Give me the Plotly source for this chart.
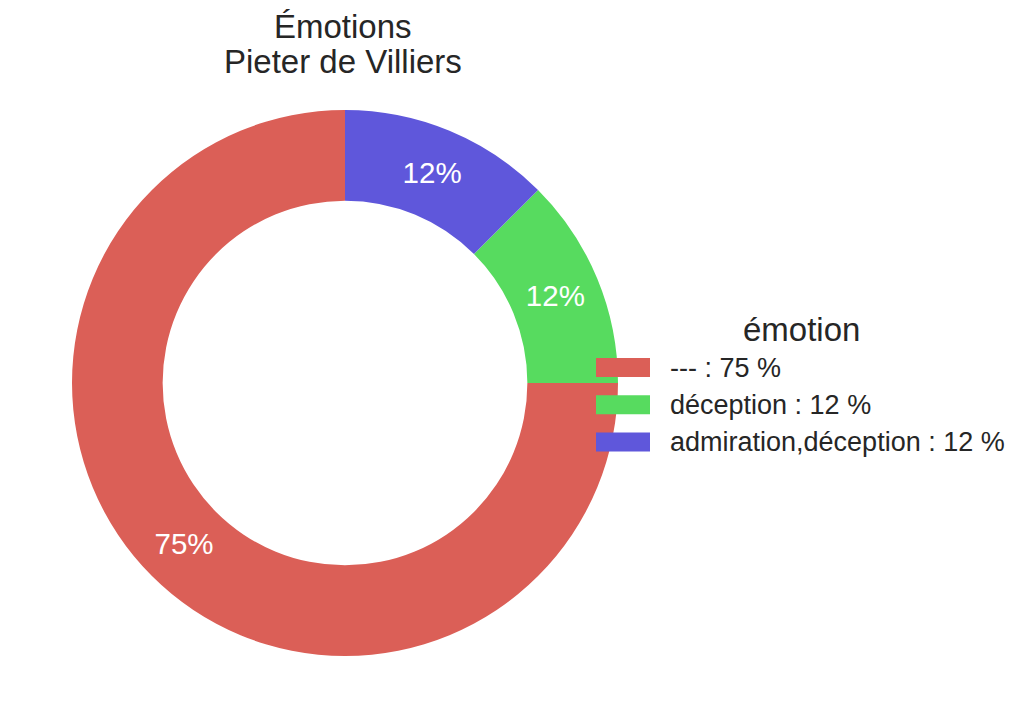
import plotly.graph_objects as go

categories = ["---", "déception", "admiration,déception"]
counts = [6, 1, 1]
colors = ["#db5f57", "#57db5f", "#5f57db"]
title_lines = ["Émotions", "Pieter de Villiers"]
legend_title = "émotion"

total = sum(counts)
pcts = [100.0 * c / total for c in counts]
slice_text = [f"{p:.0f}%" for p in pcts]
legend_text = [f"{c} : {p:.0f} %" for c, p in zip(categories, pcts)]

W, H = 1033, 704
FONT = "Liberation Sans, Arial, sans-serif"
DARK = "#262626"

fig = go.Figure()
fig.add_trace(go.Pie(
    labels=categories,
    values=counts,
    text=slice_text,
    textinfo="text",
    textposition="inside",
    insidetextorientation="horizontal",
    textfont=dict(family=FONT, size=29.5, color="white"),
    marker=dict(colors=colors, line=dict(width=0)),
    hole=0.668,
    sort=False,
    direction="counterclockwise",
    rotation=90,
    showlegend=False,
    domain=dict(x=[(345 - 273) / W, (345 + 273) / W], y=[1 - 656 / H, 1 - 110 / H]),
))

annotations = []
for line, yc in zip(title_lines, [27, 61]):
    annotations.append(dict(text=line, x=343 / W, y=1 - yc / H, xref="paper", yref="paper",
                            xanchor="center", yanchor="middle", showarrow=False,
                            font=dict(family=FONT, size=33, color=DARK)))
annotations.append(dict(text=legend_title, x=801 / W, y=1 - 329 / H, xref="paper", yref="paper",
                        xanchor="center", yanchor="middle", showarrow=False,
                        font=dict(family=FONT, size=33, color=DARK)))
shapes = []
row_y = [367.5, 404.8, 442.1]
for txt, col, yc in zip(legend_text, colors, row_y):
    shapes.append(dict(type="rect", xref="paper", yref="paper",
                       x0=596 / W, x1=650 / W, y0=1 - (yc + 9.5) / H, y1=1 - (yc - 9.5) / H,
                       fillcolor=col, line=dict(width=0)))
    annotations.append(dict(text=txt, x=668 / W, y=1 - yc / H, xref="paper", yref="paper",
                            xanchor="left", yanchor="middle", showarrow=False,
                            font=dict(family=FONT, size=27, color=DARK)))

fig.update_layout(
    width=W, height=H,
    margin=dict(l=0, r=0, t=0, b=0),
    paper_bgcolor="white",
    plot_bgcolor="white",
    annotations=annotations,
    shapes=shapes,
)

fig.write_html("out.html", config={"displayModeBar": False},
               post_script="document.body.style.margin='0';")
